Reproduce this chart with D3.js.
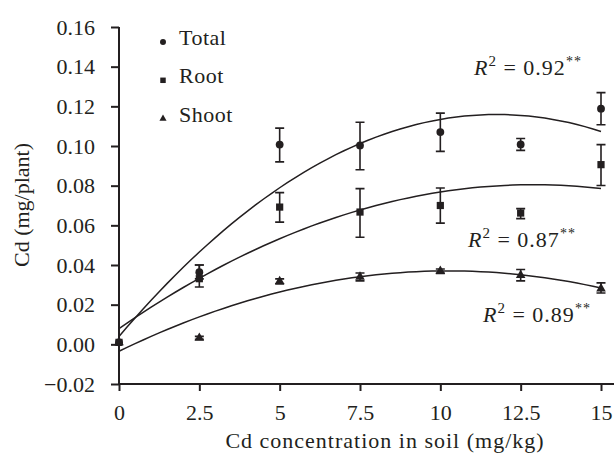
<!DOCTYPE html>
<html>
<head>
<meta charset="utf-8">
<script src="https://cdn.jsdelivr.net/npm/d3@7"></script>
<style>
body { margin:0; background:#fff; }
svg text { font-family: "Liberation Serif", "DejaVu Serif", serif; fill:#231f20; }
</style>
</head>
<body>
<svg width="614" height="457"></svg>
<script>
// soil Cd levels (mg/kg)
var doses = [0, 2.5, 5, 7.5, 10, 12.5, 15];

// means and error bar (low, high)
var total = [0.001, 0.0364, 0.1007, 0.1003, 0.107, 0.1008, 0.1188];
var totalLo = [0.0, 0.033, 0.092, 0.088, 0.0973, 0.0978, 0.1107];
var totalHi = [0.002, 0.040, 0.109, 0.112, 0.1166, 0.1038, 0.1269];

var root = [0.001, 0.0331, 0.0692, 0.0667, 0.070, 0.0662, 0.0906];
var rootLo = [0.0, 0.0289, 0.0616, 0.054, 0.0611, 0.0634, 0.0801];
var rootHi = [0.002, 0.040, 0.0765, 0.0785, 0.0788, 0.0684, 0.1007];

var shoot = [0.001, 0.0032, 0.0318, 0.034, 0.037, 0.0348, 0.0281];
var shootLo = [0.0, 0.0025, 0.0305, 0.032, 0.0358, 0.032, 0.0259];
var shootHi = [0.002, 0.004, 0.033, 0.036, 0.038, 0.0377, 0.031];

// quadratic fits  y = a + b x + c x^2
var fitTotal = [0.0040, 0.01904, -0.00081];
var fitRoot = [0.0079, 0.01125, -0.000436];
var fitShoot = [-0.0035, 0.00790, -0.000385];

var yTicks = [-0.02, 0, 0.02, 0.04, 0.06, 0.08, 0.10, 0.12, 0.14, 0.16];
var xTicks = [0, 2.5, 5, 7.5, 10, 12.5, 15];
var r2Labels = ["0.92", "0.87", "0.89"];

var svg = d3.select("svg");
var ink = "#231f20";

var x = d3.scaleLinear().domain([0, 15]).range([119, 601]);
var y = d3.scaleLinear().domain([-0.02, 0.16]).range([384, 27]);

// axes
var yAxis = svg.append("g").attr("transform", "translate(119,0)")
  .call(d3.axisLeft(y).tickValues(yTicks).tickSize(8).tickSizeOuter(0)
    .tickFormat(function(d){ return d < 0 ? "\u22120.02" : d3.format(".2f")(d); }));
var xAxis = svg.append("g").attr("transform", "translate(0,384)")
  .call(d3.axisBottom(x).tickValues(xTicks).tickSize(7).tickSizeOuter(0)
    .tickFormat(function(d){ return String(d); }));

[yAxis, xAxis].forEach(function(a){
  a.attr("font-family", null).attr("font-size", null);
  a.selectAll("path").attr("stroke", ink).attr("stroke-width", 2);
  a.selectAll("line").attr("stroke", ink).attr("stroke-width", 2);
  a.selectAll("text").style("font-size", "22px").attr("fill", ink)
    .style("font-family", "'Liberation Serif', serif");
});
yAxis.select("path").attr("d", "M0,27V384");
xAxis.select("path").attr("d", "M119,0H614");
yAxis.selectAll("text").attr("x", -24);
xAxis.selectAll("text").attr("y", 20);

// axis titles
svg.append("text").attr("x", 385).attr("y", 448).attr("text-anchor", "middle")
  .style("font-size", "22px").style("letter-spacing", "1px")
  .text("Cd concentration in soil (mg/kg)");
svg.append("text").attr("transform", "translate(29,205) rotate(-90)")
  .attr("text-anchor", "middle").style("font-size", "22px").text("Cd (mg/plant)");

// fitted curves
var xs = d3.range(0, 15.01, 0.25);
function fitLine(c) {
  return d3.line()
    .x(function(d){ return x(d); })
    .y(function(d){ return y(c[0] + c[1]*d + c[2]*d*d); })(xs);
}
[fitTotal, fitRoot, fitShoot].forEach(function(c){
  svg.append("path").attr("d", fitLine(c)).attr("fill", "none")
    .attr("stroke", ink).attr("stroke-width", 1.5);
});

// error bars + markers
var series = [
  {v: total, lo: totalLo, hi: totalHi, sym: d3.symbolCircle, size: 48},
  {v: root, lo: rootLo, hi: rootHi, sym: d3.symbolSquare, size: 52},
  {v: shoot, lo: shootLo, hi: shootHi, sym: d3.symbolTriangle, size: 40}
];
series.forEach(function(s){
  var g = svg.append("g");
  doses.forEach(function(d, i){
    if (i > 0) {
      var cx = x(d);
      g.append("path")
        .attr("d", "M" + (cx-4.5) + "," + y(s.hi[i]) + "H" + (cx+4.5) +
          "M" + cx + "," + y(s.hi[i]) + "V" + y(s.lo[i]) +
          "M" + (cx-4.5) + "," + y(s.lo[i]) + "H" + (cx+4.5))
        .attr("stroke", ink).attr("stroke-width", 1.6).attr("fill", "none");
    }
    g.append("path").attr("d", d3.symbol().type(s.sym).size(s.size)())
      .attr("transform", "translate(" + x(d) + "," + y(s.v[i]) + ")")
      .attr("fill", ink);
  });
});

// legend
var legNames = ["Total", "Root", "Shoot"];
var legSyms = [d3.symbolCircle, d3.symbolSquare, d3.symbolTriangle];
var legSizes = [28, 30, 22];
legNames.forEach(function(n, i){
  var by = 45 + i*38.3;
  svg.append("path").attr("d", d3.symbol().type(legSyms[i]).size(legSizes[i])())
    .attr("transform", "translate(163," + (by-3) + ")").attr("fill", ink);
  svg.append("text").attr("x", 179).attr("y", by).style("font-size", "22px")
    .style("letter-spacing", "0.5px").text(n);
});

// R^2 labels
var r2Pos = [[474, 75], [468, 247], [483, 322]];
r2Labels.forEach(function(l, i){
  var t = svg.append("text").attr("x", r2Pos[i][0]).attr("y", r2Pos[i][1])
    .style("font-size", "22px").style("letter-spacing", "1px");
  t.append("tspan").style("font-style", "italic").text("R");
  t.append("tspan").attr("dy", -9).style("font-size", "15px").text("2");
  t.append("tspan").attr("dy", 9).text(" = " + l);
  t.append("tspan").attr("dy", -9).style("font-size", "14px").text("**");
});
</script>
</body>
</html>
